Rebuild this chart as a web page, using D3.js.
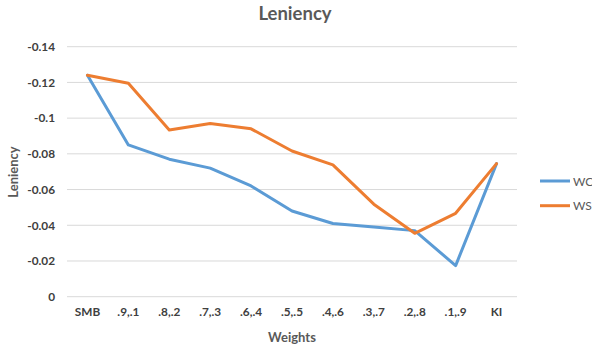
<!DOCTYPE html>
<html>
<head>
<meta charset="utf-8">
<script src="https://cdn.jsdelivr.net/npm/d3@7/dist/d3.min.js"></script>
<style>
  html, body { margin: 0; padding: 0; background: #fff; }
  svg { display: block; font-family: Lato, "Open Sans", "Liberation Sans", sans-serif; }
</style>
</head>
<body>
<svg id="chart" width="592" height="352"></svg>
<script>
// Weight pairs along the x axis
const categories = ["SMB", ".9,.1", ".8,.2", ".7,.3", ".6,.4", ".5,.5", ".4,.6", ".3,.7", ".2,.8", ".1,.9", "KI"];
// Leniency per weighting
const wcValues = [-0.124, -0.085, -0.077, -0.072, -0.062, -0.048, -0.041, -0.039, -0.037, -0.0174, -0.0745];
const wsValues = [-0.124, -0.1195, -0.0934, -0.097, -0.094, -0.0816, -0.0738, -0.0518, -0.0355, -0.0467, -0.0745];
const yTicks = [0, -0.02, -0.04, -0.06, -0.08, -0.1, -0.12, -0.14];
const seriesNames = ["WC", "WS"];
const seriesColors = ["#5B9BD5", "#ED7D31"];

const series = [
  { name: seriesNames[0], values: wcValues, color: seriesColors[0] },
  { name: seriesNames[1], values: wsValues, color: seriesColors[1] }
];

const svg = d3.select("#chart");
const plot = { left: 67, right: 517, top: 46.7, bottom: 296.7 };

const x = d3.scaleBand().domain(categories).range([plot.left, plot.right]);
const y = d3.scaleLinear().domain([0, -0.14]).range([plot.bottom, plot.top]);

// Horizontal gridlines
svg.append("g")
  .selectAll("line")
  .data(yTicks)
  .join("line")
  .attr("x1", plot.left).attr("x2", plot.right)
  .attr("y1", d => y(d)).attr("y2", d => y(d))
  .attr("stroke", "#d9d9d9").attr("stroke-width", 1);

// Y axis labels
const yAxis = svg.append("g")
  .attr("transform", `translate(${plot.left},0)`)
  .call(d3.axisLeft(y).tickValues(yTicks).tickSize(0).tickPadding(12).tickFormat(d => d === 0 ? "0" : String(d)));
yAxis.select(".domain").remove();
yAxis.selectAll("text")
  .attr("font-size", 11.8).attr("font-weight", "bold").attr("fill", "#404040")
  .attr("font-family", "Lato, 'Open Sans', sans-serif");

// X axis labels
const xAxis = svg.append("g")
  .attr("transform", `translate(0,${plot.bottom})`)
  .call(d3.axisBottom(x).tickSize(0).tickPadding(11));
xAxis.select(".domain").remove();
xAxis.selectAll("text")
  .attr("font-size", 11.8).attr("font-weight", "bold").attr("fill", "#404040")
  .attr("font-family", "Lato, 'Open Sans', sans-serif");

// Series lines
const line = d3.line()
  .x((d, i) => x(categories[i]) + x.bandwidth() / 2)
  .y(d => y(d));

svg.append("g")
  .selectAll("path")
  .data(series)
  .join("path")
  .attr("d", d => line(d.values))
  .attr("fill", "none")
  .attr("stroke", d => d.color)
  .attr("stroke-width", 3)
  .attr("stroke-linejoin", "round")
  .attr("stroke-linecap", "round");

// Title
svg.append("text")
  .attr("x", 295).attr("y", 20)
  .attr("text-anchor", "middle")
  .attr("font-size", 18.5).attr("font-weight", "bold").attr("fill", "#595959")
  .text("Leniency");

// Axis titles
svg.append("text")
  .attr("x", (plot.left + plot.right) / 2).attr("y", 342)
  .attr("text-anchor", "middle")
  .attr("font-size", 13).attr("font-weight", "bold").attr("fill", "#595959")
  .text("Weights");

svg.append("text")
  .attr("transform", "translate(18,172) rotate(-90)")
  .attr("text-anchor", "middle")
  .attr("font-size", 13).attr("font-weight", "bold").attr("fill", "#595959")
  .text("Leniency");

// Legend
const legend = svg.append("g")
  .selectAll("g")
  .data(series)
  .join("g")
  .attr("transform", (d, i) => `translate(540,${181 + i * 24.7})`);
legend.append("line")
  .attr("x1", 0).attr("x2", 30).attr("y1", 0).attr("y2", 0)
  .attr("stroke", d => d.color).attr("stroke-width", 3);
legend.append("text")
  .attr("x", 33).attr("y", 4.5)
  .attr("font-size", 12).attr("fill", "#595959")
  .text(d => d.name);
</script>
</body>
</html>
